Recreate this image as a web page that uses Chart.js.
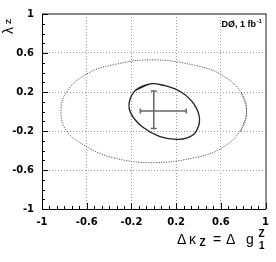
<!DOCTYPE html>
<html>
<head>
<meta charset="utf-8">
<script src="https://cdn.jsdelivr.net/npm/chart.js@4.4.1/dist/chart.umd.min.js"></script>
<style>
  html, body { margin: 0; padding: 0; background: #fff; }
  #wrap { width: 276px; height: 262px; position: relative; }
</style>
</head>
<body>
<div id="wrap"><canvas id="contourChart"></canvas></div>
<script>
// Axis ticks
const xTicks = [-1, -0.6, -0.2, 0.2, 0.6, 1];
const yTicks = [-1, -0.6, -0.2, 0.2, 0.6, 1];

// 95% C.L. (dotted) contour
const outerX = [0.78, 0.83, 0.78, 0.6, 0.38, 0.0, -0.36, -0.6, -0.78, -0.83, -0.78, -0.6, -0.36, 0.0, 0.38, 0.6, 0.775, 0.83, 0.78];
const outerY = [-0.2, 0.0, 0.2, 0.38, 0.47, 0.53, 0.48, 0.385, 0.2, 0.0, -0.2, -0.36, -0.475, -0.525, -0.47, -0.38, -0.2, 0.0, 0.2];

// 68% C.L. (solid) contour
const innerX = [-0.16, -0.02, 0.10, 0.25, 0.36, 0.41, 0.37, 0.30, 0.20, 0.05, -0.10, -0.20, -0.22, -0.16, -0.02, 0.10];
const innerY = [0.22, 0.285, 0.265, 0.195, 0.075, -0.08, -0.22, -0.27, -0.285, -0.255, -0.16, -0.03, 0.09, 0.22, 0.285, 0.265];

// Best fit point with errors
const bestX = 0.0, bestY = 0.005;
const errX = [-0.12, 0.29];
const errY = [-0.175, 0.21];

const toPts = (xs, ys) => xs.map((x, i) => ({ x: x, y: ys[i] }));

const tickFont = { family: 'DejaVu Sans', size: 10, weight: 'bold' };

// Frame, inward ticks and the axis titles
const decorations = {
    id: 'decorations',
    afterDraw(chart) {
        const ctx = chart.ctx;
        const a = chart.chartArea;
        const xs = chart.scales.x, ys = chart.scales.y;
        ctx.save();

        // top and right frame
        ctx.strokeStyle = '#888';
        ctx.lineWidth = 2;
        ctx.beginPath();
        ctx.moveTo(a.left, a.top);
        ctx.lineTo(a.right + 1, a.top);
        ctx.stroke();
        ctx.strokeStyle = '#222';
        ctx.lineWidth = 1;
        ctx.beginPath();
        ctx.moveTo(a.right + 0.5, a.top);
        ctx.lineTo(a.right + 0.5, a.bottom);
        ctx.stroke();

        // ticks pointing into the plot
        ctx.strokeStyle = '#000';
        ctx.lineWidth = 1;
        ctx.beginPath();
        for (let v = -1; v <= 1.0001; v += 0.4 / 6) {
            const px = Math.round(xs.getPixelForValue(v)) + 0.5;
            ctx.moveTo(px, a.bottom);
            ctx.lineTo(px, a.bottom - 3);
        }
        xTicks.forEach(v => {
            const px = Math.round(xs.getPixelForValue(v)) + 0.5;
            ctx.moveTo(px, a.bottom);
            ctx.lineTo(px, a.bottom - 6);
        });
        for (let v = -1; v <= 1.0001; v += 0.1) {
            const py = Math.round(ys.getPixelForValue(v)) + 0.5;
            ctx.moveTo(a.left, py);
            ctx.lineTo(a.left + 3, py);
        }
        yTicks.forEach(v => {
            const py = Math.round(ys.getPixelForValue(v)) + 0.5;
            ctx.moveTo(a.left, py);
            ctx.lineTo(a.left + 6, py);
        });
        ctx.stroke();

        ctx.fillStyle = '#000';
        ctx.textBaseline = 'alphabetic';
        ctx.textAlign = 'left';

        // x title: Δκ_Z = Δg_1^Z, glyphs placed one by one
        ctx.font = '14px "Liberation Sans"';
        ctx.fillText('Δ', 177, 243.5);
        ctx.fillText('κ', 189, 243.5);
        ctx.fillText('=', 213, 243.5);
        ctx.fillText('Δ', 226, 243.5);
        ctx.fillText('g', 246, 243.5);
        ctx.font = 'bold 10px "Liberation Sans"';
        ctx.fillText('Z', 199.5, 246);
        ctx.fillText('Z', 258.5, 236.5);
        ctx.fillText('1', 259, 248.5);

        // y title: λ_Z (rotated)
        ctx.save();
        ctx.translate(13, 34);
        ctx.rotate(-Math.PI / 2);
        ctx.font = '14px "Liberation Sans"';
        ctx.fillText('λ', 0, 0);
        ctx.font = 'bold 8px "Liberation Sans"';
        ctx.fillText('Z', 10, -2);
        ctx.restore();

        // experiment label
        ctx.font = 'bold 9px "Liberation Sans"';
        ctx.textAlign = 'right';
        ctx.fillText('DØ, 1 fb', 256, 27);
        ctx.font = 'bold 6px "Liberation Sans"';
        ctx.textAlign = 'left';
        ctx.fillText('-1', 256.5, 23);

        ctx.restore();
    }
};

const ctx = document.getElementById('contourChart').getContext('2d');
const contourChart = new Chart(ctx, {
    type: 'scatter',
    data: {
        datasets: [
            {
                data: toPts(outerX, outerY),
                showLine: true,
                borderColor: '#555',
                borderWidth: 1,
                borderDash: [1.2, 1.3],
                pointRadius: 0,
                tension: 0.4,
                fill: false
            },
            {
                data: toPts(innerX, innerY),
                showLine: true,
                borderColor: '#222',
                borderWidth: 1.3,
                pointRadius: 0,
                tension: 0.4,
                fill: false
            },
            {
                data: [{ x: errX[0], y: bestY }, { x: errX[1], y: bestY }],
                showLine: true,
                borderColor: '#666',
                borderWidth: 1.5,
                pointStyle: 'line',
                rotation: 90,
                pointRadius: 2.5,
                pointBorderWidth: 1.5,
                pointBorderColor: '#666'
            },
            {
                data: [{ x: bestX, y: errY[0] }, { x: bestX, y: errY[1] }],
                showLine: true,
                borderColor: '#666',
                borderWidth: 1.5,
                pointStyle: 'line',
                rotation: 0,
                pointRadius: 3,
                pointBorderWidth: 1.5,
                pointBorderColor: '#666'
            }
        ]
    },
    options: {
        responsive: true,
        maintainAspectRatio: false,
        animation: false,
        layout: { padding: { top: 9, right: 6, left: 0, bottom: 0 } },
        plugins: { legend: { display: false }, tooltip: { enabled: false } },
        scales: {
            x: {
                type: 'linear',
                min: -1,
                max: 1,
                afterBuildTicks: s => { s.ticks = xTicks.map(v => ({ value: v })); },
                afterFit: s => { s.height = 53; },
                ticks: {
                    font: tickFont,
                    color: '#000',
                    padding: 7,
                    autoSkip: false,
                    maxRotation: 0,
                    callback: v => String(v)
                },
                grid: {
                    drawTicks: false,
                    color: c => (Math.abs(c.tick.value) > 0.99 ? 'rgba(0,0,0,0)' : '#999'),
                    lineWidth: 1
                },
                border: { color: '#000', width: 1, dash: [1, 2] }
            },
            y: {
                type: 'linear',
                min: -1,
                max: 1,
                afterBuildTicks: s => { s.ticks = yTicks.map(v => ({ value: v })); },
                afterFit: s => { s.width = 42; },
                ticks: {
                    font: tickFont,
                    color: '#000',
                    padding: 8,
                    autoSkip: false,
                    callback: v => String(v)
                },
                grid: {
                    drawTicks: false,
                    color: c => (Math.abs(c.tick.value) > 0.99 ? 'rgba(0,0,0,0)' : '#999'),
                    lineWidth: 1
                },
                border: { color: '#000', width: 1, dash: [1, 2] }
            }
        }
    },
    plugins: [decorations]
});
</script>
</body>
</html>
